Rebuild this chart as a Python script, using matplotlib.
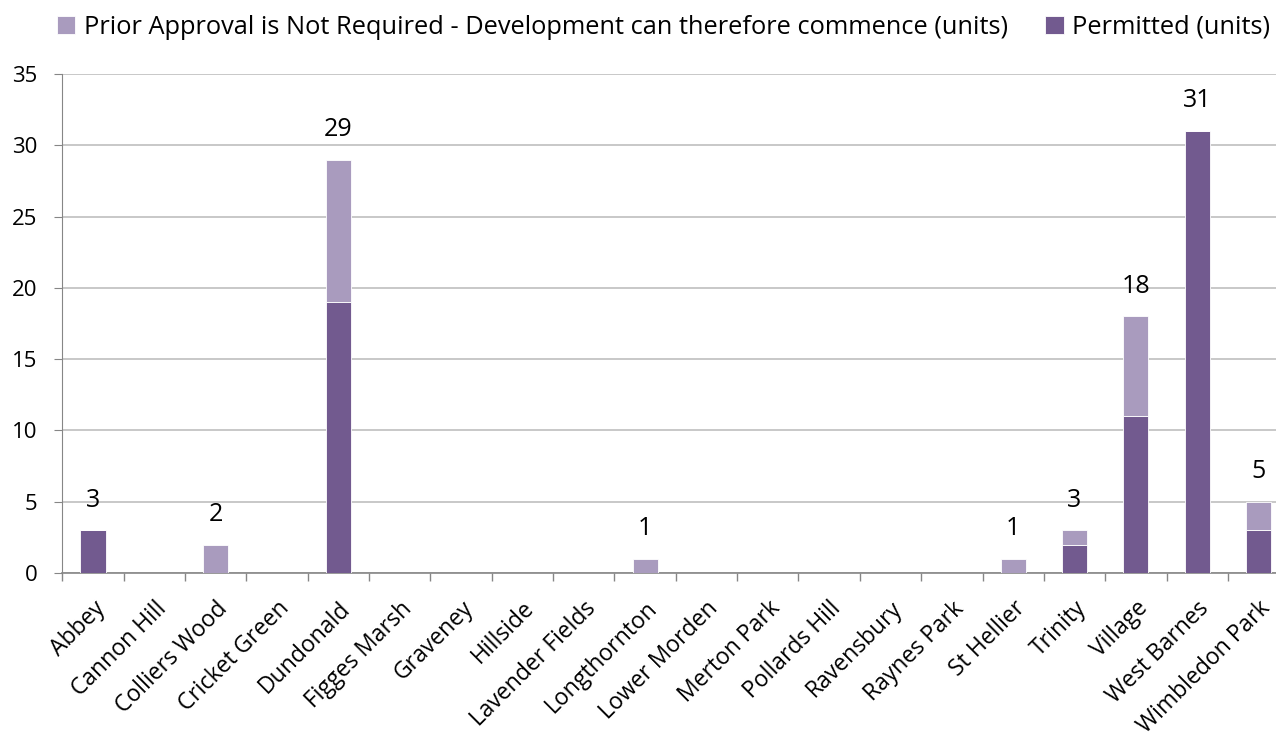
import matplotlib.pyplot as plt
import numpy as np

plt.rcParams['font.family'] = ['Open Sans', 'DejaVu Sans']

wards = ["Abbey", "Cannon Hill", "Colliers Wood", "Cricket Green", "Dundonald",
         "Figges Marsh", "Graveney", "Hillside", "Lavender Fields", "Longthornton",
         "Lower Morden", "Merton Park", "Pollards Hill", "Ravensbury", "Raynes Park",
         "St Hellier", "Trinity", "Village", "West Barnes", "Wimbledon Park"]
permitted = [3, 0, 0, 0, 19, 0, 0, 0, 0, 0, 0, 0, 0, 0, 0, 0, 2, 11, 31, 3]
prior = [0, 0, 2, 0, 10, 0, 0, 0, 0, 1, 0, 0, 0, 0, 0, 1, 1, 7, 0, 2]

dark = '#725A8F'
light = '#A99BBE'
grey = '#868686'

fig = plt.figure(figsize=(12.76, 7.37), dpi=100)
ax = fig.add_axes([0.0488, 0.2225, 0.9616, 0.6771])

x = np.arange(len(wards))
permitted = np.array(permitted)
prior = np.array(prior)
total = permitted + prior

b1 = ax.bar(x, permitted, width=0.41, color=dark, edgecolor='white', linewidth=0.6,
            label='Permitted (units)', zorder=3)
b2 = ax.bar(x, prior, width=0.41, bottom=permitted, color=light, edgecolor='white',
            linewidth=0.6, label='Prior Approval is Not Required - Development can therefore commence (units)',
            zorder=3)

# totals above the stacks
for xi, t in zip(x, total):
    if t > 0:
        ax.annotate(str(t), (xi, t), xytext=(0, 17), textcoords='offset points',
                    ha='center', va='baseline', fontsize=18)

ax.set_xlim(-0.5, len(wards) - 0.5)
ax.set_ylim(0, 35)
ax.set_yticks(range(0, 36, 5))
ax.yaxis.grid(True, color='#BFBFBF', linewidth=1.2, zorder=0)
ax.set_axisbelow(True)

for s in ['top', 'right']:
    ax.spines[s].set_visible(False)
ax.spines['left'].set_color(grey)
ax.spines['bottom'].set_color(grey)
ax.spines['bottom'].set_linewidth(1.2)

ax.set_xticks(x)
ax.set_xticklabels(wards, rotation=45, ha='right', rotation_mode='anchor', fontsize=16.5)
ax.tick_params(axis='x', which='major', length=0, pad=17)
ax.set_xticks(np.arange(-0.5, len(wards), 1), minor=True)
ax.tick_params(axis='x', which='minor', length=6, color=grey, width=1)
ax.tick_params(axis='y', length=6, color=grey, labelsize=16, pad=12)

handles = [b2, b1]
fig.legend(handles, [h.get_label() for h in handles], loc='center',
           bbox_to_anchor=(0.52, 0.963), ncol=2, frameon=False, fontsize=18.3,
           handlelength=0.72, handleheight=0.72, handletextpad=0.34,
           columnspacing=1.48, borderaxespad=0, borderpad=0)

fig.savefig('out.png', dpi=100)
